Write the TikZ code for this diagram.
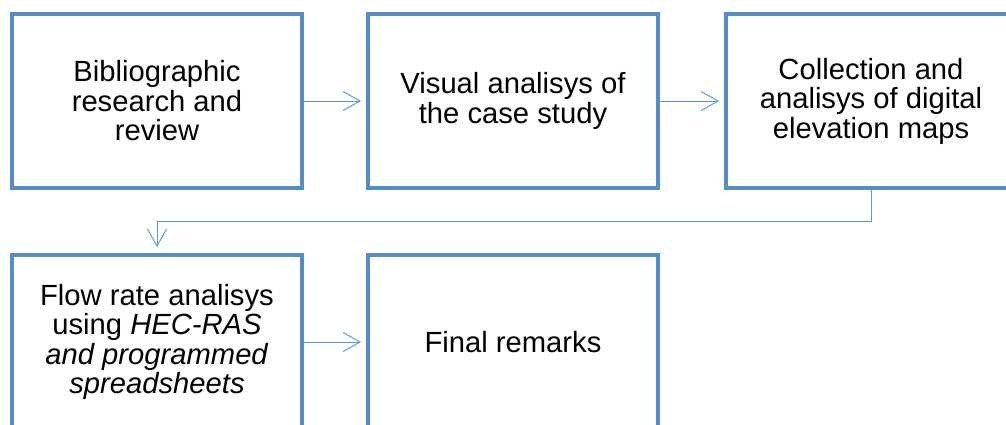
\documentclass[tikz,border=0pt]{standalone}
\usepackage{fontspec}
\setmainfont{Liberation Sans}
\usetikzlibrary{arrows.meta}
\definecolor{boxblue}{RGB}{84,141,196}
\definecolor{linkblue}{RGB}{91,155,213}
\tikzset{
  stepbox/.style={draw=boxblue, line width=3.8pt, fill=white, rectangle,
    minimum width=290pt, minimum height=174pt, inner sep=0pt, align=center,
    font=\fontsize{29.2}{29.5}\selectfont},
  link/.style={draw=linkblue, line width=1pt,
    -{Straight Barb[length=17pt,width=19pt,line width=1pt]}, shorten >=5pt}
}
\begin{document}
\begin{tikzpicture}[x=1pt,y=-1pt]
  \useasboundingbox (0,0) rectangle (1006,424);
  \clip (0,0) rectangle (1006,424);
  \node[stepbox] (b1) at (157,101) {Bibliographic\\research and\\review};
  \node[stepbox] (b2) at (513,101) {Visual analisys of\\the case study};
  \node[stepbox] (b3) at (871,101) {Collection and\\analisys of digital\\elevation maps};
  \node[stepbox] (b4) at (157,342) {Flow rate analisys\\using \textit{HEC-RAS}\\\textit{and programmed}\\\textit{spreadsheets}};
  \node[stepbox] (b5) at (513,342) {Final remarks};
  \coordinate (turn) at (871,221);
  \draw[link] (b1) -- (b2);
  \draw[link] (b2) -- (b3);
  \draw[link, shorten >=6pt] (b3.south) |- (turn) -| (b4.north);
  \draw[link] (b4) -- (b5);
\end{tikzpicture}
\end{document}
